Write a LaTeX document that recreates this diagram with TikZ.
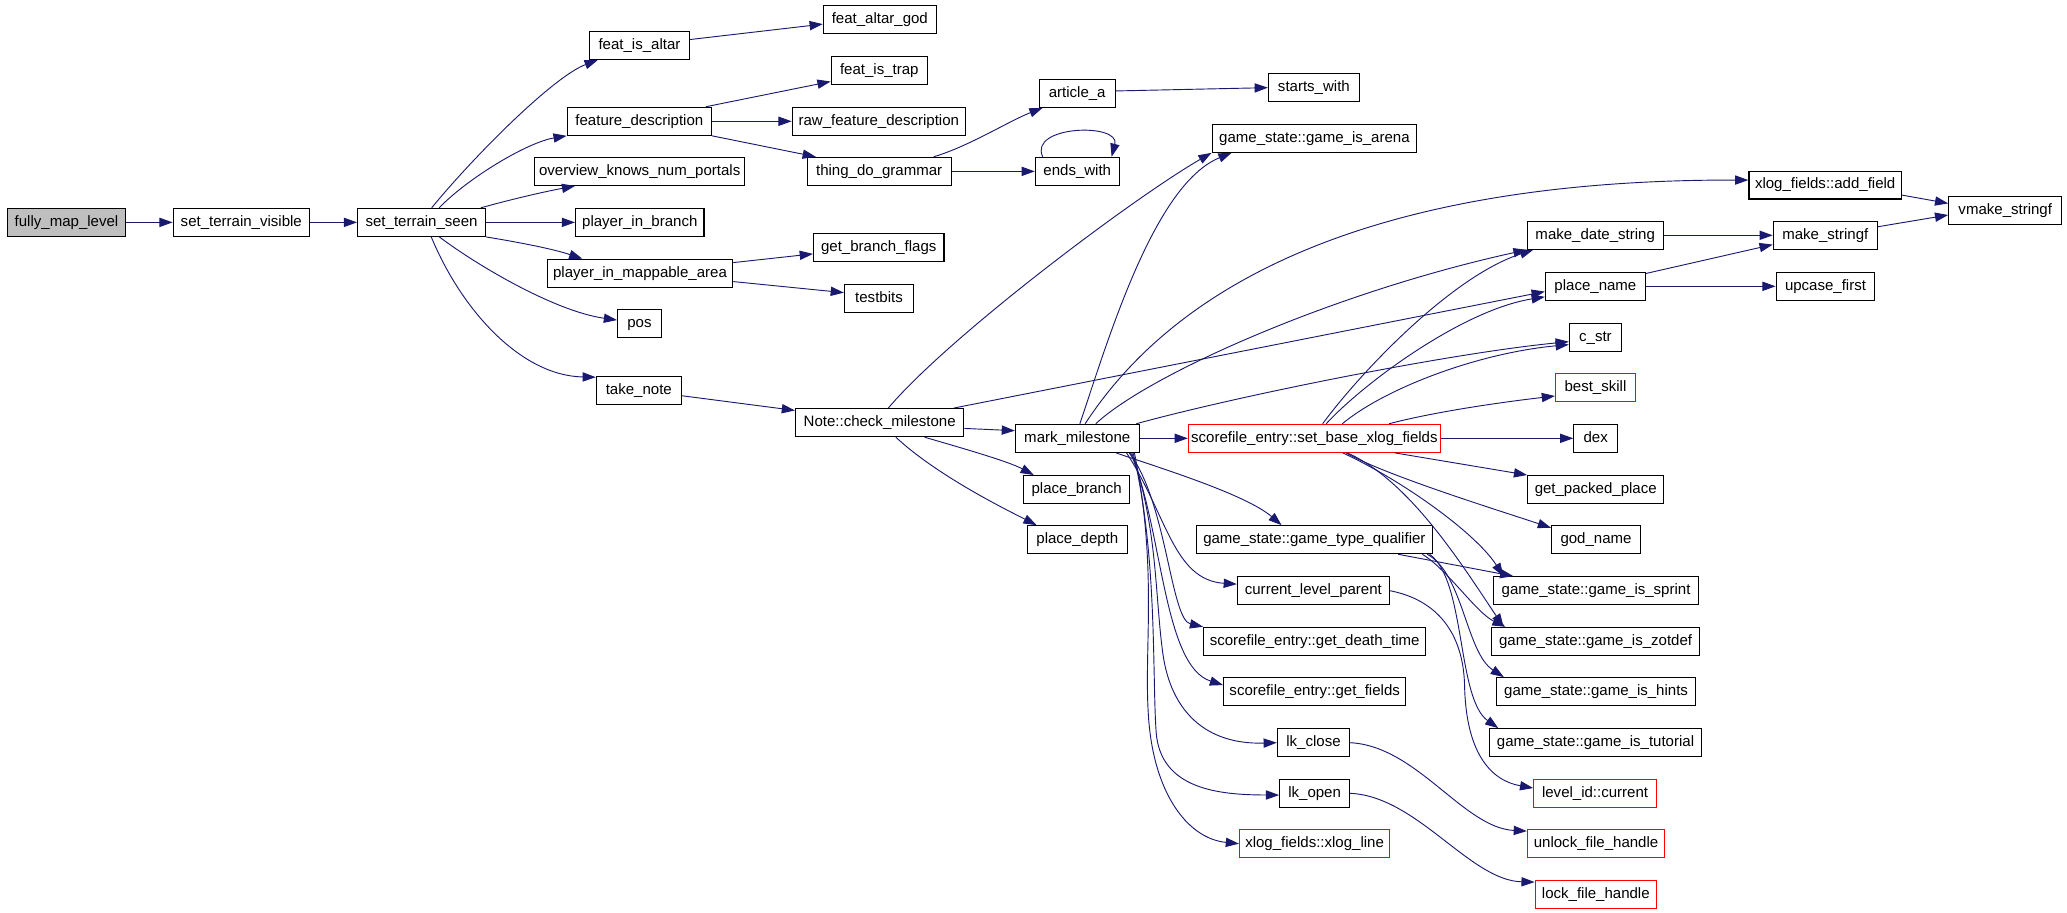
\documentclass[tikz,border=0pt]{standalone}
\usepackage{fontspec}
\setmainfont{Liberation Sans}
\usetikzlibrary{arrows.meta,calc}
\definecolor{edgeblue}{HTML}{191970}
\definecolor{rootgray}{HTML}{BFBFBF}
\newcommand{\gbox}[6][]{\node[gbox,#1,minimum width={(#4-#3)*1pt}] (#2) at ({(#3+#4)/2},#5) {#6};}
\begin{document}
\begin{tikzpicture}[x=1pt,y=-1pt,
 gbox/.style={draw=black,line width=0.9pt,rectangle,inner sep=0pt,minimum height=21.2pt,text height=8.2pt,text depth=2.3pt,font=\fontsize{11.4}{13}\selectfont},
 root/.style={fill=rootgray},
 redb/.style={draw=red},
 call/.style={draw=edgeblue,line width=0.7pt,-{Triangle[length=10pt,width=7pt]}}]
\useasboundingbox (0,0) rectangle (1568,692);
% nodes
\gbox[root]{fml}{5.8}{95.1}{168.7}{fully\_map\_level}
\gbox{stv}{131.4}{234.7}{168.7}{set\_terrain\_visible}
\gbox{sts}{271.3}{368.3}{168.7}{set\_terrain\_seen}
\gbox{fia}{447.2}{523}{34.5}{feat\_is\_altar}
\gbox{fag}{624.6}{710.2}{14.8}{feat\_altar\_god}
\gbox{fd}{430.3}{539.7}{92}{feature\_description}
\gbox{fit}{630.5}{703.5}{53.5}{feat\_is\_trap}
\gbox{rfd}{601}{732.3}{92}{raw\_feature\_description}
\gbox{tdg}{612.3}{721.5}{130}{thing\_do\_grammar}
\gbox{ovk}{405.7}{564.8}{130}{overview\_knows\_num\_portals}
\gbox{pib}{436.6}{534.1}{168.7}{player\_in\_branch}
\gbox{pima}{415.2}{555.8}{207.3}{player\_in\_mappable\_area}
\gbox{gbf}{617.1}{716.1}{187.6}{get\_branch\_flags}
\gbox{tb}{640.6}{693}{226.3}{testbits}
\gbox{pos}{468.5}{501.6}{245.3}{pos}
\gbox{tn}{452.4}{516.8}{296.2}{take\_note}
\gbox{aa}{788.3}{846}{70.8}{article\_a}
\gbox{sw}{962.2}{1031.2}{66.2}{starts\_with}
\gbox{ew}{785.4}{849}{130}{ends\_with}
\gbox{gia}{919.5}{1074.7}{104.9}{game\_state::game\_is\_arena}
\gbox{af}{1326.7}{1442.4}{140.4}{xlog\_fields::add\_field}
\gbox{vms}{1478.3}{1564}{159.7}{vmake\_stringf}
\gbox{mds}{1158.5}{1261.7}{178.5}{make\_date\_string}
\gbox{msf}{1345.2}{1424.1}{178.5}{make\_stringf}
\gbox{pn}{1172.3}{1248.2}{217.2}{place\_name}
\gbox{uf}{1347.4}{1422.2}{217.2}{upcase\_first}
\gbox{cs}{1190.5}{1230}{255.9}{c\_str}
\gbox[redb]{bs}{1180}{1240.6}{293.8}{best\_skill}
\gbox{ncm}{603.5}{731.1}{320.6}{Note::check\_milestone}
\gbox{mm}{770.3}{864.1}{332.5}{mark\_milestone}
\gbox[redb]{sb}{901.5}{1092.7}{332.5}{scorefile\_entry::set\_base\_xlog\_fields}
\gbox{dex}{1193.9}{1227}{332.5}{dex}
\gbox{pbr}{776.6}{857}{371.4}{place\_branch}
\gbox{gpp}{1158.9}{1262.1}{371.4}{get\_packed\_place}
\gbox{pd}{779.4}{855.1}{409.4}{place\_depth}
\gbox{gn}{1177}{1244.4}{409.4}{god\_name}
\gbox{gtq}{907.6}{1086.5}{409.4}{game\_state::game\_type\_qualifier}
\gbox{clp}{938.7}{1053.9}{448.1}{current\_level\_parent}
\gbox{gis}{1132.9}{1288.6}{448.1}{game\_state::game\_is\_sprint}
\gbox{gdt}{913.1}{1081.5}{486.5}{scorefile\_entry::get\_death\_time}
\gbox{giz}{1131.5}{1289.3}{486.5}{game\_state::game\_is\_zotdef}
\gbox{gf}{928.2}{1066.4}{524.7}{scorefile\_entry::get\_fields}
\gbox{gih}{1135.2}{1286.3}{524.7}{game\_state::game\_is\_hints}
\gbox{lkc}{969}{1023.8}{563.4}{lk\_close}
\gbox{git}{1130}{1290.7}{563.4}{game\_state::game\_is\_tutorial}
\gbox{lko}{970.8}{1023.7}{601.8}{lk\_open}
\gbox[redb]{lic}{1163.5}{1256.5}{601.8}{level\_id::current}
\gbox[redb]{xl}{940.3}{1054.2}{640}{xlog\_fields::xlog\_line}
\gbox[redb]{ufh}{1158.7}{1262.8}{640}{unlock\_file\_handle}
\gbox[redb]{lfh}{1164.6}{1256.5}{678.4}{lock\_file\_handle}
% edges
\draw[call] (fml.east) -- (stv.west);
\draw[call] (stv.east) -- (sts.west);
\draw[call] ($(sts.north west)+(56.6,0)$) .. controls (360,118) and (420,58) .. ($(fia.south west)+(6.7,0)$);
\draw[call] ($(sts.north west)+(62.3,0)$) .. controls (355,135) and (400,108) .. (fd.south west);
\draw[call] ($(sts.north east)+(-4,0)$) .. controls (385,152) and (410,146) .. ($(ovk.south west)+(31,0)$);
\draw[call] (sts.east) -- (pib.west);
\draw[call] (sts.south east) .. controls (395,184) and (420,189) .. ($(pima.north west)+(27,0)$);
\draw[call] ($(sts.south west)+(62.5,0)$) .. controls (360,200) and (420,236) .. ($(pos.west)+(0,-2.5)$);
\draw[call] ($(sts.south west)+(56.3,0)$) .. controls (350,235) and (395,285) .. ($(tn.north west)+(0,1)$);
\draw[call] ($(fia.east)+(0,-4.5)$) -- ($(fag.west)+(0,3.5)$);
\draw[call] ($(fd.north east)+(-4.6,0)$) -- ($(fit.south west)+(0,-2.7)$);
\draw[call] (fd.east) -- (rfd.west);
\draw[call] (fd.south east) -- ($(tdg.north west)+(7,0)$);
\draw[call] ($(tdg.north east)+(-13.7,0)$) .. controls (735,111) and (765,92) .. ($(aa.south west)+(3,0)$);
\draw[call] (tdg.east) -- (ew.west);
\draw[call] ($(aa.east)+(0,-1.8)$) -- ($(sw.west)+(0,0.3)$);
\draw[call] ($(ew.north west)+(6,0)$) .. controls (780,95) and (850,93) .. ($(ew.north east)+(-6.2,0)$);
\draw[call] ($(pima.east)+(0,-8.1)$) -- ($(gbf.west)+(0,5)$);
\draw[call] ($(pima.east)+(0,6.3)$) -- ($(tb.west)+(0,-4.3)$);
\draw[call] ($(tn.east)+(0,4)$) -- ($(ncm.north west)+(0,1.8)$);
% Note::check_milestone
\draw[call] ($(ncm.north west)+(70.8,0)$) .. controls (720,255) and (860,150) .. (gia.south west);
\draw[call] ($(ncm.north east)+(-8,0)$) -- ($(pn.west)+(0,4)$);
\draw[call] ($(ncm.east)+(0,4.4)$) -- ($(mm.west)+(0,-5.8)$);
\draw[call] ($(ncm.south east)+(-30.2,0)$) .. controls (730,340) and (765,350) .. ($(pbr.north west)+(8,0)$);
\draw[call] ($(ncm.south west)+(76.5,0)$) .. controls (710,360) and (760,385) .. ($(pd.north west)+(7.4,0)$);
% mark_milestone
\draw[call] ($(mm.north west)+(49.3,0)$) .. controls (840,260) and (875,140) .. ($(gia.south west)+(15.2,0)$);
\draw[call] ($(mm.north west)+(53.3,0)$) .. controls (870,250) and (985,136) .. ($(af.west)+(0,-3.8)$);
\draw[call] ($(mm.north west)+(61.4,0)$) .. controls (870,285) and (1010,222) .. (mds.south west);
\draw[call] ($(mm.north east)+(-2.6,0)$) .. controls (940,300) and (1100,268) .. ($(cs.west)+(0,3.3)$);
\draw[call] (mm.east) -- (sb.west);
\draw[call] ($(mm.south east)+(-18,0)$) .. controls (880,355) and (945,375) .. ($(gtq.north west)+(65,0)$);
\draw[call] ($(mm.south east)+(-10,0)$) .. controls (885,390) and (890,440) .. ($(clp.west)+(0,-5)$);
\draw[call] ($(mm.south east)+(-8,0)$) .. controls (885,380) and (888,470) .. (gdt.north west);
\draw[call] ($(mm.south east)+(-7,0)$) .. controls (882,400) and (882,505) .. ($(gf.west)+(0,-5)$);
\draw[call] ($(mm.south east)+(-6,0)$) .. controls (878,400) and (876,450) .. (882,495) .. controls (888,540) and (915,565) .. (lkc.west);
\draw[call] ($(mm.south east)+(-5,0)$) .. controls (878,420) and (874,511) .. (877,555) .. controls (880,599) and (925,603) .. ($(lko.west)+(0,1.3)$);
\draw[call] ($(mm.south east)+(-4,0)$) .. controls (878,430) and (868,490) .. (871,540) .. controls (874,600) and (900,636) .. (xl.west);
% set_base_xlog_fields
\draw[call] ($(sb.north west)+(102.3,0)$) .. controls (1030,285) and (1100,210) .. ($(mds.south west)+(5,0)$);
\draw[call] ($(sb.north west)+(105,0)$) .. controls (1035,290) and (1110,235) .. ($(pn.west)+(0,8)$);
\draw[call] ($(sb.north west)+(117.2,0)$) .. controls (1050,295) and (1120,268) .. ($(cs.west)+(0,5.5)$);
\draw[call] ($(sb.north west)+(152.6,0)$) .. controls (1090,312) and (1140,305) .. ($(bs.west)+(0,6.6)$);
\draw[call] (sb.east) -- (dex.west);
\draw[call] ($(sb.south west)+(157,0)$) -- (gpp.north west);
\draw[call] ($(sb.south west)+(120,0)$) .. controls (1050,360) and (1130,385) .. ($(gn.north west)+(0,2)$);
\draw[call] ($(sb.south west)+(117.5,0)$) .. controls (1065,365) and (1120,405) .. ($(gis.north west)+(8,0)$);
\draw[call] ($(sb.south west)+(121,0)$) .. controls (1070,365) and (1110,430) .. ($(giz.north west)+(9.5,0)$);
% game_type_qualifier
\draw[call] ($(gtq.south east)+(-26.4,0)$) -- ($(gis.north west)+(15.5,0)$);
\draw[call] ($(gtq.south east)+(-8,0)$) .. controls (1098,432) and (1120,465) .. ($(giz.north west)+(11,0)$);
\draw[call] ($(gtq.south east)+(-4.3,0)$) .. controls (1110,435) and (1112,495) .. ($(gih.north west)+(6,0)$);
\draw[call] ($(gtq.south east)+(-2.5,0)$) .. controls (1112,440) and (1105,530) .. ($(git.north west)+(7,0)$);
% others
\draw[call] (clp.east) .. controls (1090,455) and (1110,480) .. (1111,520) .. controls (1112,570) and (1130,592) .. ($(lic.west)+(0,-4)$);
\draw[call] (lkc.east) .. controls (1075,566) and (1110,628) .. ($(ufh.north west)+(0,1.5)$);
\draw[call] (lko.east) .. controls (1075,604) and (1115,668) .. ($(lfh.north west)+(0,1.8)$);
\draw[call] (mds.east) -- (msf.west);
\draw[call] ($(pn.north east)+(0,1.3)$) -- ($(msf.south west)+(0,-4)$);
\draw[call] (pn.east) -- (uf.west);
\draw[call] ($(msf.east)+(0,-6.5)$) -- ($(vms.west)+(0,3.4)$);
\draw[call] ($(af.east)+(0,7.6)$) -- ($(vms.west)+(0,-5.4)$);
\end{tikzpicture}
\end{document}
